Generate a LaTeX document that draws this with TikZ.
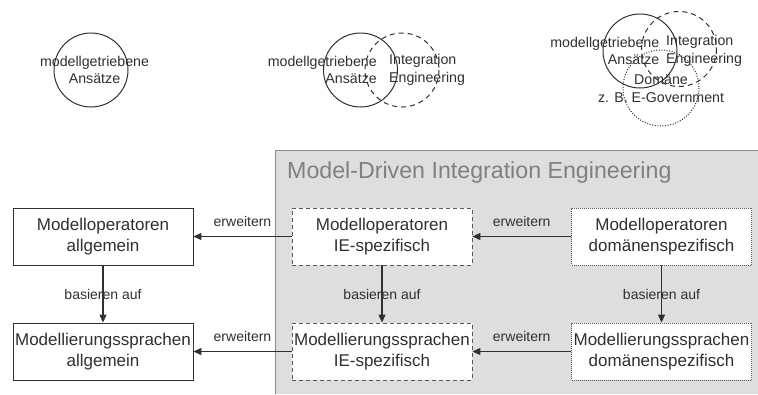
\documentclass[tikz,border=0pt]{standalone}
\usepackage{fontspec}
\setmainfont{Liberation Sans}
\usetikzlibrary{arrows.meta}
\definecolor{ink}{HTML}{303030}
\definecolor{panelfill}{HTML}{DEDEDE}
\definecolor{panelline}{HTML}{8A8A8A}
\definecolor{titlegray}{HTML}{808080}
\tikzset{
  boxbase/.style={minimum width=180pt,minimum height=57pt,inner sep=0pt,align=center,
    font=\fontsize{17}{21}\selectfont,text=ink,line width=0.9pt},
  solidbox/.style={boxbase,draw=ink,fill=white},
  dashbox/.style={boxbase,draw=ink!80,fill=white,dash pattern=on 4pt off 3pt},
  dotbox/.style={boxbase,draw=ink!80,fill=white,dash pattern=on 1pt off 1pt},
  conn/.style={draw=ink,line width=1.2pt,-{Triangle[length=8pt,width=7pt]}},
  lbl/.style={font=\fontsize{14}{16}\selectfont,text=ink,inner sep=0pt},
  ctext/.style={font=\fontsize{14.2}{17.5}\selectfont,text=ink,inner sep=0pt},
  circ/.style={draw=ink,line width=1pt}
}
\begin{document}
\begin{tikzpicture}[x=1pt,y=-1pt]
\useasboundingbox (0,0) rectangle (758,394);
\fill[white] (0,0) rectangle (758,394);
% panel
\fill[panelfill] (275.5,150.5) rectangle (758,394);
\draw[panelline,line width=1.2pt] (275.5,394) -- (275.5,150.5) -- (758,150.5);
\node[anchor=west,inner sep=0pt,text=titlegray,font=\fontsize{23.2}{26}\selectfont] (title) at (287,172.5) {Model-Driven Integration Engineering};

% top circles
\draw[circ] (91,70) circle (37);
\node[ctext,align=center] (c1) at (94.5,70) {modellgetriebene\\Ansätze};

\draw[circ] (360.5,70) circle (37);
\draw[circ,dash pattern=on 5pt off 4pt] (402,70) circle (37);
\node[ctext,align=right,anchor=east] (c2a) at (377,70) {modellgetriebene\\Ansätze};
\node[ctext,align=left,anchor=west] (c2b) at (389,70) {Integration\\Engineering};

\draw[circ] (640,51) circle (37);
\draw[circ,dash pattern=on 5pt off 4pt] (679,49) circle (37.5);
\draw[circ,dash pattern=on 1pt off 1.6pt] (661,88) circle (38);
\node[ctext,align=right,anchor=east] (c3a) at (659.5,51) {modellgetriebene\\Ansätze};
\node[ctext,align=left,anchor=west] (c3b) at (666,51) {Integration\\Engineering};
\node[ctext,align=center] (c3c) at (661,88.5) {Domäne\\z. B. E-Government};

% boxes
\node[solidbox] (moa) at (103,236.5) {Modelloperatoren\\allgemein};
\node[solidbox] (msa) at (103,351.5) {Modellierungssprachen\\allgemein};
\node[dashbox] (moi) at (382,236.5) {Modelloperatoren\\IE-spezifisch};
\node[dashbox] (msi) at (382,351.5) {Modellierungssprachen\\IE-spezifisch};
\node[dotbox] (mod) at (661.5,236.5) {Modelloperatoren\\domänenspezifisch};
\node[dotbox] (msd) at (661.5,351.5) {Modellierungssprachen\\domänenspezifisch};

% connectors
\draw[conn] (moi) -- node[lbl,yshift=15pt] {erweitern} (moa);
\draw[conn] (msi) -- node[lbl,yshift=15pt] {erweitern} (msa);
\draw[conn] (mod) -- node[lbl,yshift=15pt] {erweitern} (moi);
\draw[conn] (msd) -- node[lbl,yshift=15pt] {erweitern} (msi);
\draw[conn] (moa) -- node[lbl] {basieren auf} (msa);
\draw[conn] (moi) -- node[lbl] {basieren auf} (msi);
\draw[conn] (mod) -- node[lbl] {basieren auf} (msd);
\end{tikzpicture}
\end{document}
